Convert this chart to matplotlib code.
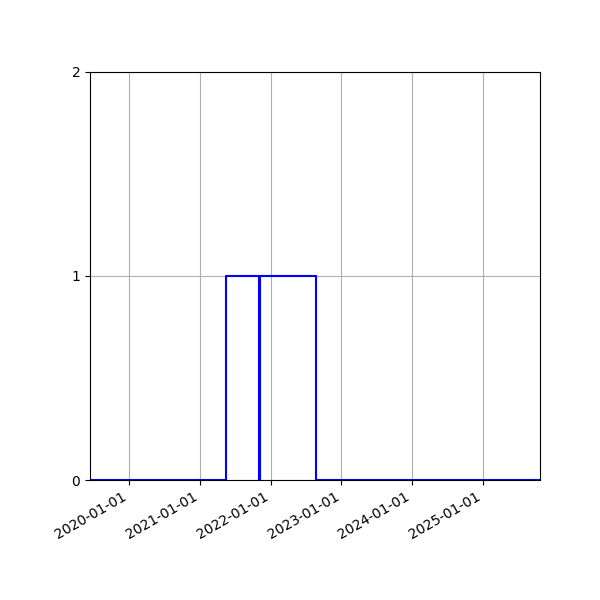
import matplotlib
matplotlib.use("Agg")
import matplotlib.pyplot as plt
import matplotlib.dates as mdates
import numpy as np
from datetime import datetime

dates = ["2019-06-14", "2021-05-14", "2021-11-02", "2021-11-05", "2022-08-22", "2025-10-22"]
values = [0, 1, 0, 1, 0, 0]
yticks = [0, 1, 2]

x = [datetime.strptime(d, "%Y-%m-%d") for d in dates]

fig = plt.figure(figsize=(6, 6), dpi=100)
ax = fig.add_axes([0.15, 0.2, 0.75, 0.68])
ax.step(x, values, where="post", color="blue", linewidth=1.5)
ax.set_xlim(x[0], x[-1])
ax.set_ylim(0, 2)
ax.set_yticks(yticks)
ax.xaxis.set_major_locator(mdates.YearLocator())
ax.xaxis.set_major_formatter(mdates.DateFormatter("%Y-%m-%d"))
ax.grid(True)
for lbl in ax.get_xticklabels():
    lbl.set_rotation(30)
    lbl.set_ha("right")
fig.savefig("out.png", dpi=100)
